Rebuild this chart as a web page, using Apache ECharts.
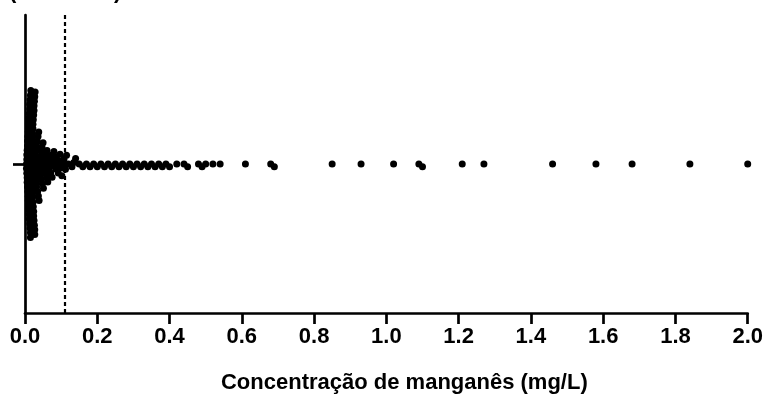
<!DOCTYPE html>
<html>
<head>
<meta charset="utf-8">
<script src="https://cdn.jsdelivr.net/npm/echarts@6/dist/echarts.min.js"></script>
<style>
  html, body { margin: 0; padding: 0; background: #fff; }
  #main { width: 766px; height: 399px; }
</style>
</head>
<body>
<div id="main"></div>
<script>
  // concentrations (mg/L), one entry per sample
  const lowValues = [
    0.004, 0.004, 0.005, 0.005, 0.005, 0.006, 0.006, 0.006, 0.007, 0.007,
    0.007, 0.008, 0.008, 0.009, 0.009, 0.009, 0.010, 0.010, 0.010, 0.011,
    0.011, 0.012, 0.012, 0.012, 0.013, 0.013, 0.013, 0.014, 0.014, 0.015,
    0.015, 0.015, 0.016, 0.016, 0.016, 0.017, 0.017, 0.018, 0.018, 0.018,
    0.019, 0.019, 0.019, 0.020, 0.020, 0.021, 0.021, 0.021, 0.022, 0.022,
    0.022, 0.023, 0.023, 0.024, 0.024, 0.024, 0.025, 0.025, 0.025, 0.026,
    0.026, 0.027, 0.027, 0.027, 0.028, 0.028, 0.028, 0.029, 0.029, 0.030,
    0.030, 0.031, 0.031, 0.032, 0.032
  ];
  const midValues = [
    0.034, 0.035, 0.036, 0.037, 0.038, 0.039, 0.040, 0.041, 0.042, 0.043,
    0.044, 0.045, 0.046, 0.047, 0.048, 0.050, 0.051, 0.052, 0.054, 0.055,
    0.057, 0.058, 0.060, 0.061, 0.063, 0.065, 0.067, 0.069, 0.071, 0.073,
    0.075, 0.077, 0.080, 0.082, 0.085, 0.087, 0.090, 0.092, 0.095, 0.097,
    0.100, 0.102, 0.105, 0.108, 0.112, 0.115
  ];
  const rowValues = [
    0.12, 0.13, 0.135, 0.14, 0.15, 0.16, 0.17, 0.18, 0.19, 0.2,
    0.21, 0.22, 0.23, 0.24, 0.25, 0.26, 0.27, 0.28, 0.29, 0.3,
    0.31, 0.32, 0.33, 0.34, 0.35, 0.36, 0.37, 0.38, 0.39, 0.4,
    0.42, 0.44, 0.45, 0.48, 0.49, 0.5, 0.52, 0.54
  ];
  const tailValues = [
    0.61, 0.68, 0.69, 0.85, 0.93, 1.02, 1.09, 1.10, 1.21,
    1.27, 1.46, 1.58, 1.68, 1.84, 2.00
  ];
  const limitValue = 0.11;
  const xTitle = 'Concentração de manganês (mg/L)';

  const font = '"Liberation Sans", Arial, sans-serif';
  const chart = echarts.init(document.getElementById('main'));

  const option = {
    animation: false,
    grid: { left: 25, right: 16, top: 15, bottom: 85 },
    graphic: [
      { type: 'text', left: 9, top: -19, style: { text: '(', font: 'bold 22px ' + font, fill: '#000' } },
      { type: 'text', left: 114, top: -19, style: { text: ')', font: 'bold 22px ' + font, fill: '#000' } }
    ],
    xAxis: {
      type: 'value',
      min: 0, max: 2, interval: 0.2,
      name: xTitle,
      nameLocation: 'middle',
      nameGap: 59,
      nameTextStyle: {
        color: '#000', fontSize: 22, fontWeight: 'bold', fontFamily: font,
        padding: [0, 0, 0, 36]
      },
      axisLine: { show: true, onZero: false, lineStyle: { color: '#000', width: 2.7 } },
      axisTick: { show: true, length: 11, lineStyle: { color: '#000', width: 2.7 } },
      axisLabel: {
        color: '#000', fontSize: 22, fontWeight: 'bold', fontFamily: font, margin: 13,
        formatter: v => v.toFixed(1)
      },
      splitLine: { show: false }
    },
    yAxis: {
      type: 'value',
      min: -1, max: 1,
      axisLine: { show: true, onZero: false, lineStyle: { color: '#000', width: 2.7 } },
      axisTick: { show: true, length: 12, customValues: [0], lineStyle: { color: '#000', width: 2.7 } },
      axisLabel: { show: false },
      splitLine: { show: false }
    },
    series: [{
      type: 'scatter',
      symbolSize: 7,
      itemStyle: { color: '#000', opacity: 1 },
      data: [],
      markLine: {
        silent: true,
        symbol: 'none',
        label: { show: false },
        lineStyle: { color: '#000', type: [4, 3], width: 2.2 },
        data: [{ xAxis: limitValue }]
      }
    }]
  };
  chart.setOption(option);

  // beeswarm layout done in pixel space, then mapped back to data
  const allValues = lowValues.concat(midValues, rowValues, tailValues).sort((a, b) => a - b);
  const cy = chart.convertToPixel({ gridIndex: 0 }, [0, 0])[1];
  const D = 4.6;
  const placed = [];
  allValues.forEach(v => {
    const px = chart.convertToPixel({ gridIndex: 0 }, [v, 0])[0];
    const near = placed.filter(q => Math.abs(q.px - px) < D);
    const cands = [0];
    near.forEach(q => {
      const dy = Math.sqrt(D * D - (q.px - px) * (q.px - px));
      cands.push(q.py + dy, q.py - dy);
    });
    cands.sort((a, b) => Math.abs(a) - Math.abs(b));
    let py = 0;
    for (const c of cands) {
      if (near.every(q => (q.px - px) ** 2 + (q.py - c) ** 2 >= D * D - 1e-6)) { py = c; break; }
    }
    placed.push({ v, px, py });
  });
  const data = placed.map(p => [p.v, chart.convertFromPixel({ gridIndex: 0 }, [p.px, cy + p.py])[1]]);
  chart.setOption({ series: [{ data }] });
</script>
</body>
</html>
